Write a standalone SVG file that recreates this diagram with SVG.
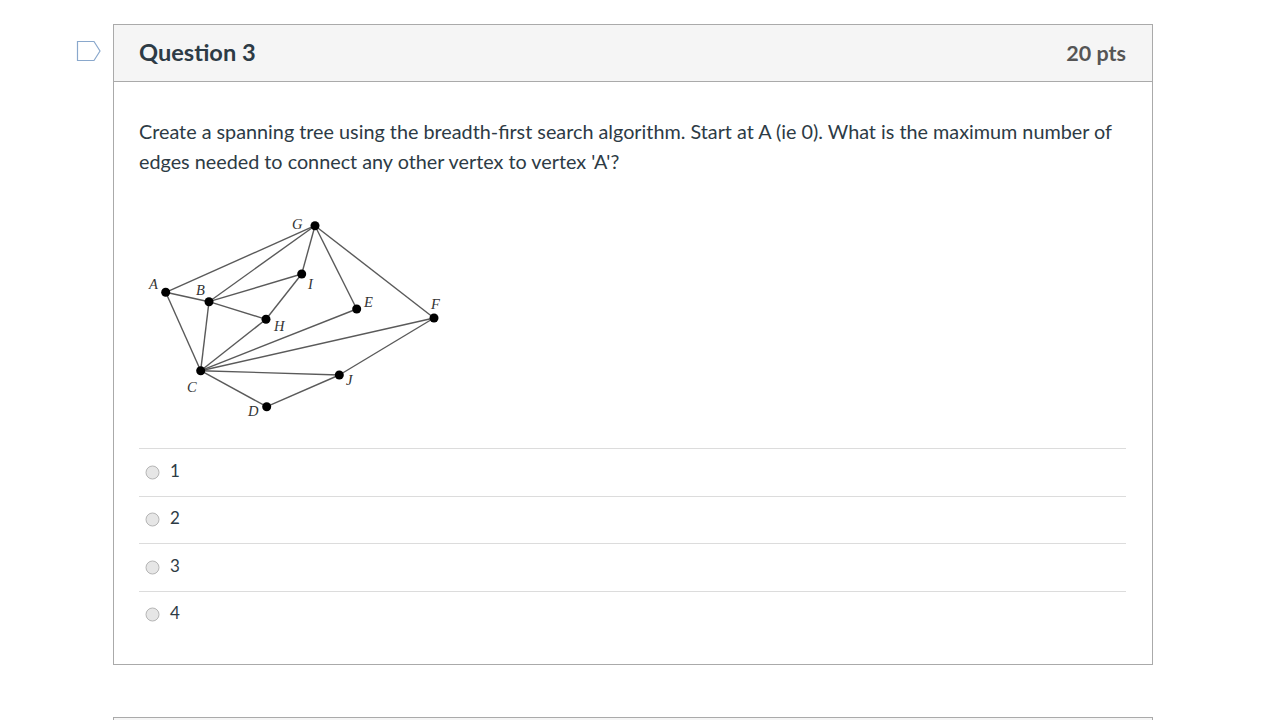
<svg xmlns="http://www.w3.org/2000/svg" width="1278" height="720" viewBox="0 0 1278 720">
<style>
.hdr{font-family:Lato,"Liberation Sans",sans-serif;font-weight:bold;font-size:23.6px;}
.pts{font-family:Lato,"Liberation Sans",sans-serif;font-weight:bold;font-size:21.5px;}
.body{font-family:Lato,"Liberation Sans",sans-serif;font-size:19.8px;fill:#2d3b45;}
.opt{font-family:Lato,"Liberation Sans",sans-serif;font-size:17px;fill:#2d3b45;}
.lbl{font-family:"Liberation Serif",serif;font-style:italic;font-size:14.5px;fill:#333;}
.edge{stroke:#5a5a5a;stroke-width:1.4;fill:none;}
.sep{stroke:#dcdcdc;stroke-width:1;}
.radio{fill:#e6e6e6;stroke:#b5b5b5;stroke-width:1;}
</style>
<rect width="1278" height="720" fill="#ffffff"/>
<path d="M77.5,41.5 H94 L100,51 L94,60.5 H77.5 Z" fill="none" stroke="#8aa8cc" stroke-width="1.2"/>
<rect x="113.5" y="24.5" width="1039" height="640" fill="#ffffff" stroke="#aaaaaa"/>
<rect x="114" y="25" width="1038" height="56" fill="#f5f5f5"/>
<line x1="114" y1="81.5" x2="1152" y2="81.5" stroke="#aaaaaa"/>
<text class="hdr" x="139" y="61" fill="#2d3b45">Question 3</text>
<text class="pts" x="1126" y="61" fill="#555555" text-anchor="end">20 pts</text>
<text class="body" x="139" y="139">Create a spanning tree using the breadth-first search algorithm. Start at A (ie 0). What is the maximum number of</text>
<text class="body" x="139" y="169">edges needed to connect any other vertex to vertex 'A'?</text>
<g id="connectors">
<line class="edge" x1="165.7" y1="292.3" x2="315" y2="225.7"/>
<line class="edge" x1="165.7" y1="292.3" x2="209" y2="301.7"/>
<line class="edge" x1="165.7" y1="292.3" x2="200.7" y2="370.7"/>
<line class="edge" x1="209" y1="301.7" x2="315" y2="225.7"/>
<line class="edge" x1="209" y1="301.7" x2="301.7" y2="274"/>
<line class="edge" x1="209" y1="301.7" x2="266" y2="319.3"/>
<line class="edge" x1="209" y1="301.7" x2="200.7" y2="370.7"/>
<line class="edge" x1="315" y1="225.7" x2="301.7" y2="274"/>
<line class="edge" x1="315" y1="225.7" x2="356.7" y2="309"/>
<line class="edge" x1="315" y1="225.7" x2="434" y2="318"/>
<line class="edge" x1="301.7" y1="274" x2="266" y2="319.3"/>
<line class="edge" x1="266" y1="319.3" x2="200.7" y2="370.7"/>
<line class="edge" x1="356.7" y1="309" x2="200.7" y2="370.7"/>
<line class="edge" x1="434" y1="318" x2="200.7" y2="370.7"/>
<line class="edge" x1="200.7" y1="370.7" x2="339.3" y2="375"/>
<line class="edge" x1="200.7" y1="370.7" x2="266.7" y2="406.7"/>
<line class="edge" x1="266.7" y1="406.7" x2="339.3" y2="375"/>
<line class="edge" x1="339.3" y1="375" x2="434" y2="318"/>
</g>
<g id="node-A"><circle cx="165.7" cy="292.3" r="4.5"/><text class="lbl" x="149" y="289">A</text></g>
<g id="node-B"><circle cx="209" cy="301.7" r="4.5"/><text class="lbl" x="196" y="295">B</text></g>
<g id="node-G"><circle cx="315" cy="225.7" r="4.5"/><text class="lbl" x="292" y="229">G</text></g>
<g id="node-I"><circle cx="301.7" cy="274" r="4.5"/><text class="lbl" x="308" y="289">I</text></g>
<g id="node-E"><circle cx="356.7" cy="309" r="4.5"/><text class="lbl" x="364" y="307">E</text></g>
<g id="node-H"><circle cx="266" cy="319.3" r="4.5"/><text class="lbl" x="274" y="331">H</text></g>
<g id="node-F"><circle cx="434" cy="318" r="4.5"/><text class="lbl" x="431" y="309">F</text></g>
<g id="node-C"><circle cx="200.7" cy="370.7" r="4.5"/><text class="lbl" x="187" y="392">C</text></g>
<g id="node-J"><circle cx="339.3" cy="375" r="4.5"/><text class="lbl" x="346" y="385">J</text></g>
<g id="node-D"><circle cx="266.7" cy="406.7" r="4.5"/><text class="lbl" x="248" y="416">D</text></g>
<line class="sep" x1="139" y1="448.5" x2="1126" y2="448.5"/>
<line class="sep" x1="139" y1="496.5" x2="1126" y2="496.5"/>
<line class="sep" x1="139" y1="543.5" x2="1126" y2="543.5"/>
<line class="sep" x1="139" y1="591.5" x2="1126" y2="591.5"/>
<circle class="radio" cx="152.5" cy="472.5" r="6.5"/>
<text class="opt" x="170" y="477">1</text>
<circle class="radio" cx="152.5" cy="519.5" r="6.5"/>
<text class="opt" x="170" y="524">2</text>
<circle class="radio" cx="152.5" cy="567.5" r="6.5"/>
<text class="opt" x="170" y="572">3</text>
<circle class="radio" cx="152.5" cy="614.5" r="6.5"/>
<text class="opt" x="170" y="619">4</text>
<rect x="113.5" y="717.5" width="1039" height="20" fill="#f5f5f5" stroke="#aaaaaa"/>
</svg>
